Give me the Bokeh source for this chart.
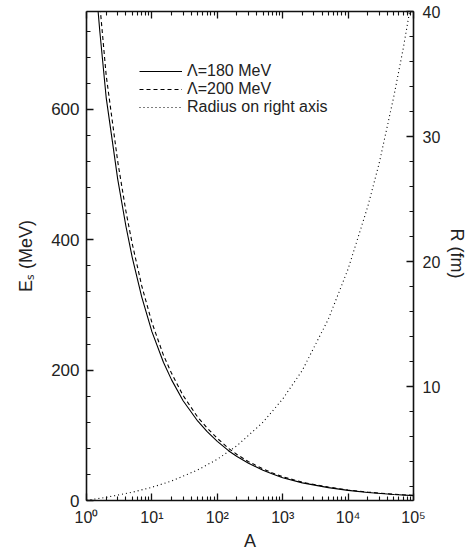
from bokeh.plotting import figure
from bokeh.models import Range1d, LinearAxis, LogAxis, FixedTicker, Legend, LegendItem
from bokeh.embed import file_html
from bokeh.resources import INLINE

# ---- data ----
A_es = [1.4, 1.6, 2, 3, 4, 5, 7, 10, 15, 20, 30, 50, 70, 100, 150, 200, 300,
        500, 700, 1000, 2000, 5000, 1e4, 2e4, 5e4, 1e5]
es_180 = [787, 719, 618, 493, 421, 373, 312, 259, 212, 185, 153, 122, 105.5,
          90.8, 76, 67.5, 57, 46.5, 40.5, 35, 27, 19.8, 15.5, 12.3, 9.2, 7.5]
es_200 = [830, 760, 652, 520, 444, 394, 329, 273, 223, 195, 161, 128, 111,
          95.3, 79.6, 70.6, 59.5, 48.5, 42.2, 36.4, 28, 20.6, 16.1, 12.8, 9.6, 7.8]
A_r = [1, 2, 5, 10, 20, 50, 100, 200, 500, 1000, 2000, 5000, 1e4, 2e4, 3e4,
       5e4, 7e4, 1e5]
radius = [0.9, 1.13, 1.54, 1.94, 2.44, 3.32, 4.18, 5.26, 7.14, 9.0, 11.3,
          15.4, 19.4, 24.4, 27.9, 33.2, 37.1, 41.8]

x_ticks = [1, 10, 100, 1000, 10000, 100000]
x_tick_labels = ["10\u2070", "10\u00b9", "10\u00b2", "10\u00b3", "10\u2074", "10\u2075"]
es_ticks = [0, 200, 400, 600]
r_ticks = [10, 20, 30, 40]
legend_labels = ["\u039b=180 MeV", "\u039b=200 MeV", "Radius on right axis"]

FONT = "Liberation Sans"
TXT = "#222222"

p = figure(width=476, height=553, x_axis_type="log", x_range=Range1d(1, 1e5),
           y_range=Range1d(0, 750), output_backend="svg", toolbar_location=None,
           min_border_left=86, min_border_right=63, min_border_top=11,
           min_border_bottom=52, background_fill_color="white")
p.extra_y_ranges = {"r": Range1d(0.88, 40)}
p.outline_line_color = None
p.xgrid.visible = False
p.ygrid.visible = False

r1 = p.line(A_es, es_180, line_color="black", line_width=1.1)
r2 = p.line(A_es, es_200, line_color="black", line_width=1.1, line_dash="4 3")
r3 = p.line(A_r, radius, line_color="black", line_width=1.1, line_dash="1 3",
            y_range_name="r")

minor_x = [m * 10 ** e for e in range(5) for m in range(2, 10)]

def style(ax, size="17px"):
    ax.axis_line_color = "#111111"
    ax.axis_line_width = 1.6
    ax.major_tick_line_color = "#111111"
    ax.minor_tick_line_color = "#111111"
    ax.major_tick_line_width = 1.3
    ax.minor_tick_line_width = 1.1
    ax.major_tick_in = 7
    ax.major_tick_out = 0
    ax.minor_tick_in = 4
    ax.minor_tick_out = 0
    ax.major_label_text_font = FONT
    ax.major_label_text_font_size = size
    ax.major_label_text_color = TXT
    ax.axis_label_text_font = FONT
    ax.axis_label_text_font_size = "18px"
    ax.axis_label_text_font_style = "normal"
    ax.axis_label_text_color = TXT

xa = p.xaxis[0]
xa.ticker = FixedTicker(ticks=x_ticks, minor_ticks=minor_x)
xa.major_label_overrides = dict(zip(x_ticks, x_tick_labels))
xa.axis_label = "A"
xa.major_label_standoff = 8
xa.axis_label_standoff = 2
style(xa, "16px")

ya = p.yaxis[0]
ya.ticker = FixedTicker(ticks=es_ticks, minor_ticks=list(range(0, 760, 40)))
ya.axis_label = "E\u209b (MeV)"
ya.major_label_standoff = 7
ya.axis_label_standoff = 12
style(ya, "17px")

top = LogAxis(ticker=FixedTicker(ticks=x_ticks, minor_ticks=minor_x))
style(top)
top.major_label_text_font_size = "1px"
top.major_label_text_alpha = 0
top.major_label_standoff = 0
p.add_layout(top, "above")

right = LinearAxis(y_range_name="r",
                   ticker=FixedTicker(ticks=r_ticks, minor_ticks=list(range(2, 41, 2))),
                   axis_label="R  (fm)")
style(right, "16px")
right.major_label_standoff = 9
right.axis_label_standoff = 4
p.add_layout(right, "right")

# one single-row legend per entry, stacked 18 px apart (screen units from frame bottom-left)
legend_rows_y = [420, 402, 384]
for lab, rend, ly in zip(legend_labels, [r1, r2, r3], legend_rows_y):
    lg = Legend(items=[LegendItem(label=lab, renderers=[rend])],
                location=(53, ly), margin=0, padding=0, spacing=0,
                glyph_width=43, glyph_height=12, label_height=12,
                label_standoff=5, border_line_alpha=0, background_fill_alpha=0,
                label_text_font=FONT, label_text_font_size="16px",
                label_text_color=TXT)
    p.add_layout(lg)

open("out.html", "w").write(file_html(p, INLINE))
